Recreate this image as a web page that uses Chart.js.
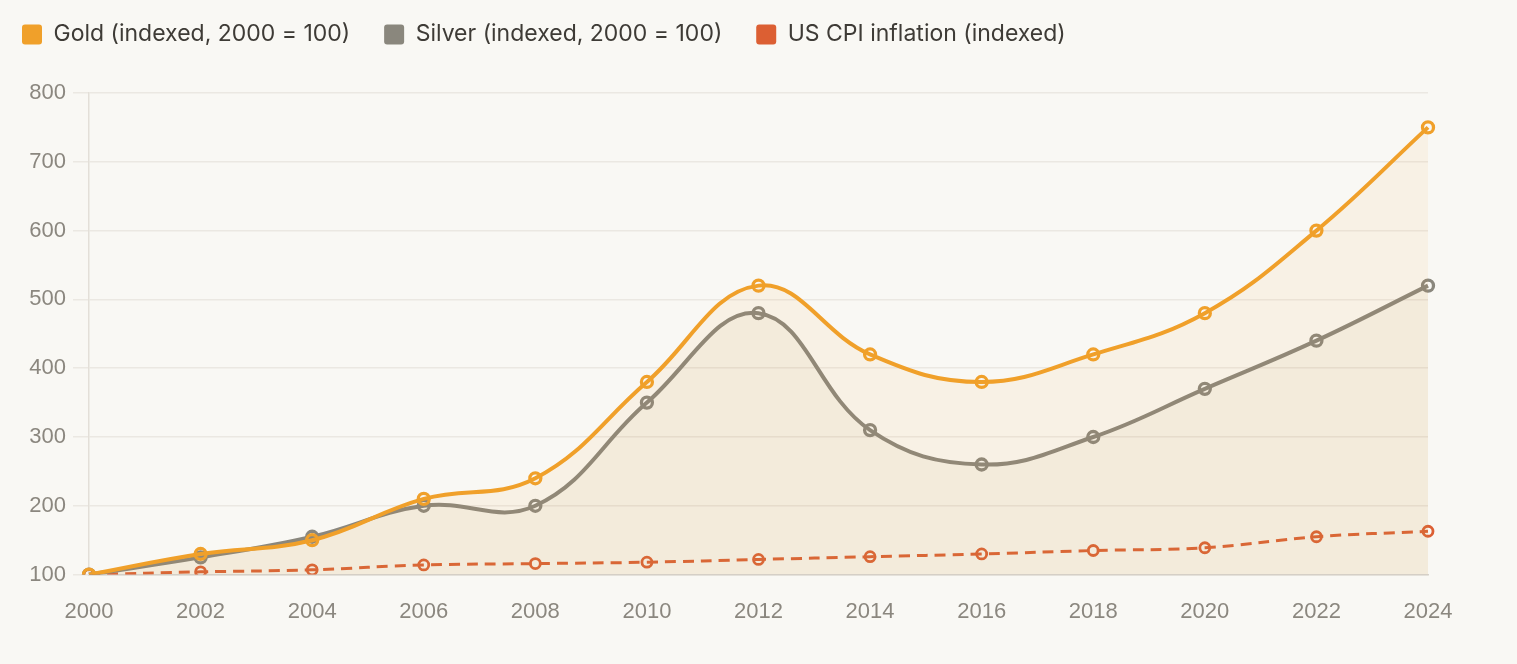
<!DOCTYPE html>
<html>
<head>
<meta charset="utf-8">
<script src="https://cdn.jsdelivr.net/npm/chart.js@4.4.1/dist/chart.umd.min.js"></script>
<style>
html, body { margin: 0; padding: 0; background: #f9f8f4; }
#wrap { width: 1517px; height: 664px; position: relative; }
</style>
</head>
<body>
<div id="wrap"><canvas id="metalsChart"></canvas></div>
<script>
// values
const years = ['2000','2002','2004','2006','2008','2010','2012','2014','2016','2018','2020','2022','2024'];
const gold = [100, 130, 150, 210, 240, 380, 520, 420, 380, 420, 480, 600, 750];
const silver = [100, 125, 155, 200, 200, 350, 480, 310, 260, 300, 370, 440, 520];
const cpi = [100, 104, 107, 114, 116, 118, 122, 126, 130, 135, 139, 155, 163];
const yTicks = [100, 200, 300, 400, 500, 600, 700, 800];

const tickColor = '#8b877f';

// push the plot area down under the legend
const legendGap = {
  id: 'legendGap',
  beforeInit(chart) {
    const fit = chart.legend.fit;
    chart.legend.fit = function () {
      fit.bind(chart.legend)();
      this.height += 37;
    };
  }
};

const ctx = document.getElementById('metalsChart').getContext('2d');

const metalsChart = new Chart(ctx, {
  type: 'line',
  data: {
    labels: years,
    datasets: [{
      label: 'Gold (indexed, 2000 = 100)',
      data: gold,
      borderColor: '#f0a02a',
      backgroundColor: 'rgba(240,160,42,0.07)',
      fill: 'start',
      borderWidth: 4,
      tension: 0.4,
      pointRadius: 5.5,
      pointBorderWidth: 3.3,
      pointBackgroundColor: 'transparent'
    }, {
      label: 'Silver (indexed, 2000 = 100)',
      data: silver,
      borderColor: '#8a877d',
      backgroundColor: 'rgba(180,150,100,0.08)',
      fill: 'start',
      borderWidth: 4,
      tension: 0.4,
      pointRadius: 5.5,
      pointBorderWidth: 3.3,
      pointBackgroundColor: 'transparent'
    }, {
      label: 'US CPI inflation (indexed)',
      data: cpi,
      borderColor: '#dc5f33',
      backgroundColor: '#dc5f33',
      fill: false,
      borderWidth: 3,
      borderDash: [11, 7],
      tension: 0.4,
      pointRadius: 5,
      pointBorderWidth: 2.8,
      pointBackgroundColor: 'transparent'
    }]
  },
  options: {
    responsive: true,
    maintainAspectRatio: false,
    animation: false,
    layout: {
      padding: { left: 1, right: 89, top: 2, bottom: 15 }
    },
    plugins: {
      legend: {
        align: 'start',
        labels: {
          boxWidth: 20,
          boxHeight: 20,
          padding: 21,
          color: '#3e3b36',
          font: { family: 'Inter', size: 23 },
          generateLabels(chart) {
            // two trailing spaces widen the gap between legend items
            return chart.data.datasets.map((ds, i) => ({
              text: ds.label + '  ',
              fillStyle: ds.borderColor,
              strokeStyle: ds.borderColor,
              lineWidth: 0,
              borderRadius: 3,
              datasetIndex: i,
              fontColor: '#3e3b36'
            }));
          }
        }
      },
      tooltip: { enabled: false }
    },
    scales: {
      x: {
        grid: { color: 'transparent', drawTicks: false },
        border: { color: '#d6d1c9', width: 1.5 },
        ticks: {
          color: tickColor,
          padding: 24,
          maxRotation: 0,
          font: { family: 'Liberation Sans', size: 22 }
        }
      },
      y: {
        min: yTicks[0],
        max: yTicks[yTicks.length - 1],
        afterFit(scale) { scale.width = 88; },
        afterBuildTicks(scale) { scale.ticks = yTicks.map(v => ({ value: v })); },
        grid: { color: '#ebe8e2', lineWidth: 1.5, tickLength: 16 },
        border: { color: '#e3dfd8', width: 1.5 },
        ticks: {
          color: tickColor,
          padding: 7,
          font: { family: 'Liberation Sans', size: 22 }
        }
      }
    }
  },
  plugins: [legendGap]
});
</script>
</body>
</html>
